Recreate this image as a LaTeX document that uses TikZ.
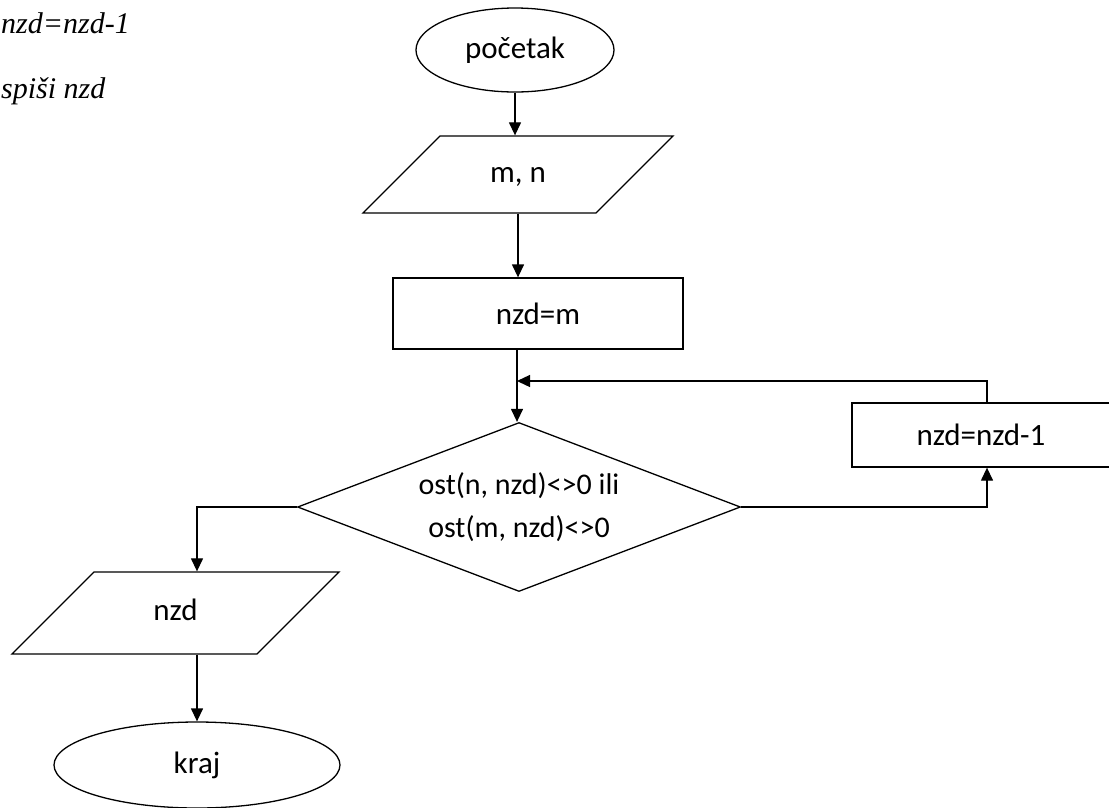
\documentclass[tikz,border=0pt]{standalone}
\usepackage{fontspec}
\setmainfont{Carlito}
\newfontfamily\notefont{Liberation Serif}
\usepackage{tikz}
\usetikzlibrary{calc,positioning,arrows.meta,shapes.geometric}
\tikzset{
>={Triangle[length=13pt,width=12pt]},
  terminal/.style={
    ellipse,
    draw=black, line width=1.3pt,
    inner sep=0pt,
    font=\fontsize{31}{40}\selectfont},
  inout/.style={
    trapezium,
    trapezium left angle=45,
    trapezium right angle=135,
    trapezium stretches body,
    draw=black, line width=1.3pt,
    inner xsep=0pt,
    text height=22pt, text depth=7pt,
    font=\fontsize{31}{40}\selectfont},
  process/.style={
    rectangle,
    draw=black, line width=1.3pt,
    inner sep=0pt,
    font=\fontsize{31}{40}\selectfont},
  decision/.style={
    diamond,
    aspect=2.62,
    draw=black, line width=1.3pt,
    inner sep=0pt,
    align=center,
    font=\fontsize{30}{43}\selectfont},
  note/.style={
    inner sep=0pt,
    font=\notefont\itshape\fontsize{30}{34}\selectfont},
  line/.style={draw, line width=1.3pt, ->},
}

\begin{document}
\begin{tikzpicture}[x=1pt,y=-1pt]

    \useasboundingbox (0,0) rectangle (1109,807);
    \clip (0,0) rectangle (1109,807);

    % notes, top left
    \node[note, anchor=base west] (note1) at (1,33) {nzd=nzd-1};
    \node[note, anchor=base west] (note2) at (1,98) {spiši nzd};

    \node[terminal, minimum width=198, minimum height=84] (start) at (515,50) {početak};
    \node[inout, inner ysep=24pt, minimum width=310] (mn) at (518,174.5) {m, n};
    \node[process, minimum width=290, minimum height=71] (init) at (538,313.5) {nzd=m};
    \node[decision, minimum width=443, minimum height=169] (cond) at (519,507)
        {ost(n, nzd)<>0 ili\\ost(m, nzd)<>0};
    \node[process, minimum width=258, minimum height=64] (dec) at (981,435) {nzd=nzd-1};
    \node[inout, inner ysep=26.5pt, minimum width=327] (out) at (175.5,613) {nzd};
    \node[terminal, minimum width=286, minimum height=86] (stop) at (197,765) {kraj};

    \coordinate (join) at (517,381);

    \draw[line] (start.south) -- (start.south |- mn.north);
    \draw[line] (mn.south) -- (mn.south |- init.north);
    \draw[line] (join |- init.south) -- (join |- cond.north);
    \draw[line] (cond.east) -| ([xshift=6pt]dec.south);
    \draw[line] ([xshift=6pt]dec.north) |- (join);
    \draw[line] (cond.west) -| (stop.north |- out.north);
    \draw[line] (stop.north |- out.south) -- (stop.north);

  \end{tikzpicture}
\end{document}
